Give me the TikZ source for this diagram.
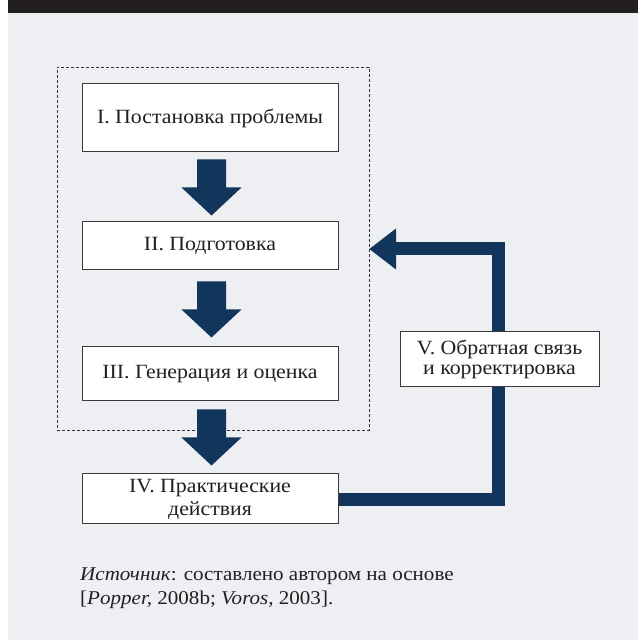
\documentclass[tikz,border=0pt]{standalone}
\usepackage{fontspec}
\setmainfont[FakeStretch=1.08]{Liberation Serif}
\usetikzlibrary{calc}
\definecolor{navy}{HTML}{12355B}
\definecolor{bggray}{HTML}{EEEFF3}
\definecolor{band}{HTML}{231F20}
\definecolor{edge}{HTML}{3A3A3A}
\definecolor{ink}{HTML}{231F20}
\tikzset{
  stagebox/.style={draw=edge, line width=1pt, fill=white, minimum width=256pt, align=center, inner sep=0pt, font=\fontsize{20.2}{22}\selectfont, text=ink},
  feedbox/.style={draw=edge, line width=1pt, fill=white, minimum width=199pt, minimum height=55pt, align=center, inner sep=0pt, font=\fontsize{20.2}{20}\selectfont, text=ink},
  dashbox/.style={draw=black!80, line width=0.8pt, dash pattern=on 3pt off 2pt},
  feedline/.style={draw=navy, line width=13pt}
}
\newcommand{\blockdown}[1]{% top point
  \fill[navy] ($#1+(-14.5pt,0)$) -- ($#1+(14.5pt,0)$) -- ($#1+(14.5pt,-28pt)$) -- ($#1+(30pt,-28pt)$)
    -- ($#1+(0,-56pt)$) -- ($#1+(-30pt,-28pt)$) -- ($#1+(-14.5pt,-28pt)$) -- cycle;}
\begin{document}
\begin{tikzpicture}[x=1pt,y=1pt]
\useasboundingbox (0,0) rectangle (638,640);
\fill[white] (0,0) rectangle (638,640);
\fill[bggray] (8,0) rectangle (638,627);
\fill[band] (8,627) rectangle (638,640);
% dashed group
\node[dashbox, minimum width=312pt, minimum height=363pt, inner sep=0pt] (grp) at (213,391.5) {};
% stages
\node[stagebox, minimum height=68pt] (s1) at (210,522) {I. Постановка проблемы};
\node[stagebox, minimum height=48pt] (s2) at (210,394) {II. Подготовка};
\node[stagebox, minimum height=54pt] (s3) at (210,266) {III. Генерация и оценка};
\node[stagebox, minimum height=50pt, font=\fontsize{20.2}{23}\selectfont] (s4) at (210,141) {IV. Практические\\действия};
% block arrows
\coordinate (a1) at ($(s1.south)+(1.5,-7)$);
\coordinate (a2) at ($(s2.south)+(1.5,-11)$);
\coordinate (a3) at ($(s3.south)+(1.5,-8)$);
\blockdown{(a1)}
\blockdown{(a2)}
\blockdown{(a3)}
% feedback loop
\coordinate (fbr) at (498,140);
\coordinate (fbt) at (498,391);
\coordinate (fbh) at (396,391);
\coordinate (fbtip) at (grp.east |- fbh);
\draw[feedline] (s4.east |- fbr) -- (fbr);
\draw[feedline] ([xshift=6.5pt]fbt |- fbh) -- (fbh);
\draw[feedline] ([yshift=-6.5pt]fbr) -- ([yshift=6.5pt]fbt |- fbh);
\fill[navy] ($(fbh)+(0,20.5)$) -- (fbtip) -- ($(fbh)+(0,-20.5)$) -- cycle;
\node[feedbox] (s5) at (499.5,280.5) {V. Обратная связь\\и корректировка};
% caption
\node[anchor=base west, align=left, inner sep=0pt, font=\fontsize{19.5}{24}\selectfont, text=ink] (cap) at (80,35)
  {\textit{Источник}: составлено автором на основе\\{}[\textit{Popper,} 2008b; \textit{Voros,} 2003].};
\end{tikzpicture}
\end{document}
